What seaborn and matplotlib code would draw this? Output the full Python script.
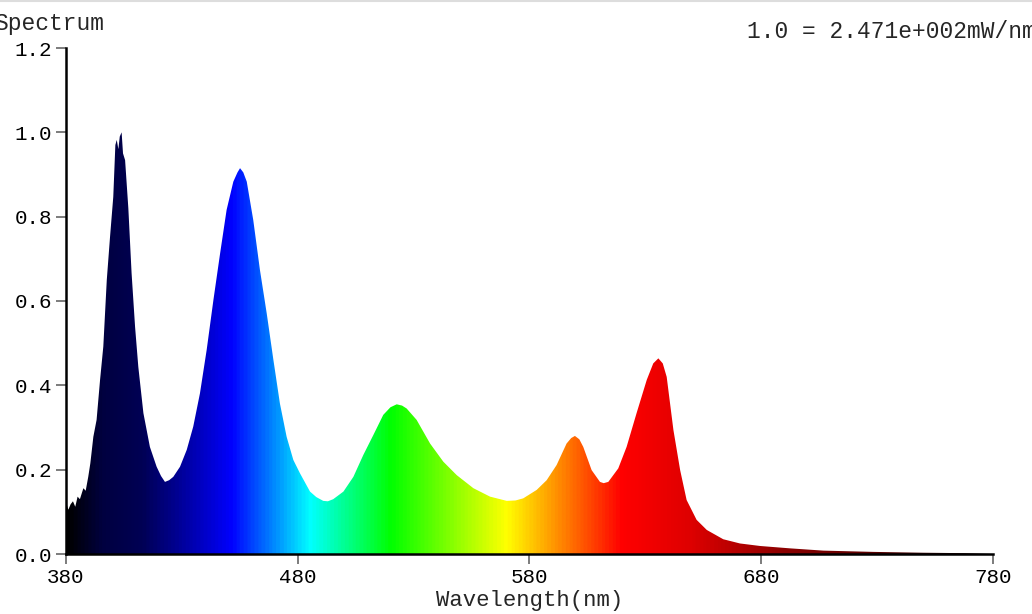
import numpy as np
import seaborn as sns
import matplotlib
matplotlib.use('Agg')
from matplotlib import pyplot as plt
from matplotlib.colors import LinearSegmentedColormap
from matplotlib.lines import Line2D

# spectrum (relative, 1.0 = 2.471e+002 mW/nm)
wavelength = [380, 381, 382, 383, 384, 385, 386, 387.5, 388.5, 389.6, 390.5, 391, 391.8,
              393.2, 394.7, 396.1, 397.6, 399, 400.4, 401.3, 401.9, 402.6, 403.2, 404,
              404.6, 405.5, 406.9, 408.3, 409.8, 411.2, 413.4, 416.2, 419.1, 421, 422.7,
              424.5, 426.3, 429.2, 432.1, 434.9, 437.8, 440.7, 443.6, 446.5, 449.3, 452.2,
              454, 455.1, 456.5, 458, 460.8, 463.7, 466.6, 469.5, 472.3, 475.2, 478.1, 481,
              485.3, 488, 491, 493, 495.3, 499.7, 504, 508.3, 512.6, 516.9, 520, 522.7, 525,
              527, 531.3, 537.1, 542.8, 548.6, 555.8, 563, 570.2, 574, 577.3, 583.1, 587.4,
              591.7, 596, 598, 599.6, 601.5, 603.2, 606.8, 610.4, 612, 614, 618.3, 621.9,
              626.2, 630.6, 633.4, 635.6, 637.5, 639.2, 642.1, 645, 647.8, 652.1, 656.5,
              663.6, 670.8, 679.5, 692.4, 706.8, 728.3, 749.9, 767.9, 780]
intensity = [0.124, 0.105, 0.118, 0.125, 0.112, 0.136, 0.13, 0.156, 0.15, 0.183, 0.215, 0.239,
             0.278, 0.318, 0.413, 0.492, 0.65, 0.752, 0.847, 0.97, 0.982, 0.96, 0.99, 1.0,
             0.95, 0.934, 0.82, 0.666, 0.539, 0.444, 0.334, 0.254, 0.207, 0.185, 0.171,
             0.175, 0.183, 0.207, 0.247, 0.302, 0.381, 0.484, 0.602, 0.713, 0.816, 0.883,
             0.905, 0.915, 0.905, 0.883, 0.792, 0.673, 0.571, 0.46, 0.357, 0.278, 0.223, 0.191,
             0.148, 0.135, 0.126, 0.125, 0.13, 0.148, 0.183, 0.235, 0.282, 0.33, 0.348, 0.355,
             0.352, 0.345, 0.318, 0.262, 0.219, 0.187, 0.156, 0.136, 0.126, 0.127, 0.132,
             0.152, 0.175, 0.211, 0.262, 0.275, 0.28, 0.272, 0.254, 0.199, 0.171, 0.168,
             0.171, 0.203, 0.254, 0.334, 0.413, 0.452, 0.464, 0.452, 0.42, 0.294, 0.199,
             0.128, 0.081, 0.057, 0.035, 0.025, 0.019, 0.0134, 0.008, 0.005, 0.003, 0.002, 0.0]

x_ticks = [380, 480, 580, 680, 780]
y_ticks = [0.0, 0.2, 0.4, 0.6, 0.8, 1.0, 1.2]

# wavelength -> display colour
color_stops = [(380, (0, 0, 0)), (395, (0, 0, 0.25)), (412, (0, 0, 0.33)),
               (426, (0, 0, 0.55)), (440, (0, 0, 0.8)), (451, (0, 0, 1)),
               (485, (0, 1, 1)), (520, (0, 1, 0)), (570, (1, 1, 0)),
               (620, (1, 0, 0)), (650, (0.87, 0, 0)), (690, (0.55, 0, 0)),
               (730, (0.35, 0, 0)), (780, (0.1, 0, 0))]
lo, hi = color_stops[0][0], color_stops[-1][0]
spectral = LinearSegmentedColormap.from_list(
    'spectral', [((w - lo) / (hi - lo), c) for w, c in color_stops])

sns.set_style('ticks')
plt.rcParams['font.family'] = ['Liberation Mono', 'DejaVu Sans Mono']

fig = plt.figure(figsize=(10.32, 6.14), dpi=100)
ax = fig.add_axes([66 / 1032, 60 / 614, 927 / 1032, 506 / 614])

# gradient image clipped to the area under the curve
verts = np.column_stack([np.r_[wavelength, wavelength[-1], wavelength[0]],
                         np.r_[intensity, 0, 0]])
area = plt.Polygon(verts, closed=True, facecolor='none', edgecolor='none')
ax.add_patch(area)
grad = np.linspace(lo, hi, 1200)[None, :]
im = ax.imshow(grad, cmap=spectral, vmin=lo, vmax=hi, aspect='auto',
               extent=[lo, hi, 0, 1.2], origin='lower', interpolation='bilinear')
im.set_clip_path(area)

ax.set_xlim(380, 780)
ax.set_ylim(0, 1.2)
ax.set_xticks(x_ticks)
ax.set_yticks(y_ticks)
ax.set_yticklabels([f'{v:.1f}' for v in y_ticks])
sns.despine(ax=ax)
for s in ['left', 'bottom']:
    ax.spines[s].set_color('black')
    ax.spines[s].set_linewidth(1.8)
ax.tick_params(axis='both', direction='out', length=7, width=1.2, color='#666666',
               labelsize=15, labelcolor='black', pad=3)
ax.set_xlabel('Wavelength(nm)', fontsize=16, labelpad=2)

# both header texts run past the figure edge in the reference
fig.text(-0.006, 0.961, 'Spectrum', fontsize=16.5, va='center', ha='left')
fig.text(0.724, 0.949, '1.0 = 2.471e+002mW/nm', fontsize=16.5, va='center', ha='left')
fig.add_artist(Line2D([0, 1], [0.998, 0.998], color='#dddddd', lw=1.5,
                      transform=fig.transFigure))

fig.savefig('out.png', dpi=100)
